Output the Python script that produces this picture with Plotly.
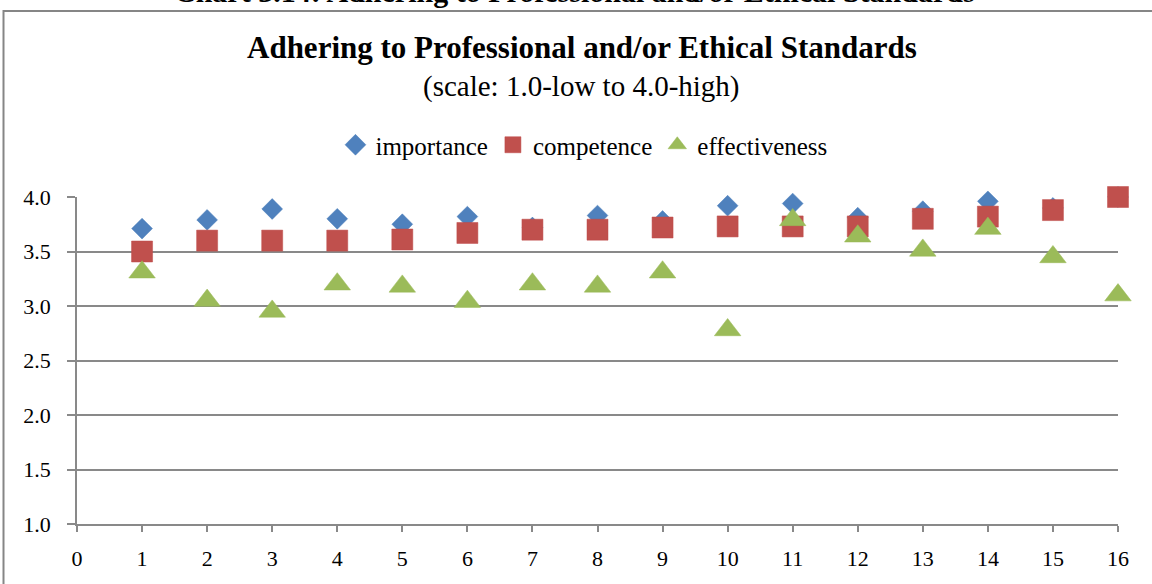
import plotly.graph_objects as go

# Survey items 1..16 and their mean ratings (1.0 = low, 4.0 = high)
items = list(range(1, 17))
importance = [3.71, 3.79, 3.89, 3.80, 3.75, 3.82, 3.72, 3.83,
              3.78, 3.92, 3.94, 3.81, 3.87, 3.96, 3.90, 4.00]
competence = [3.50, 3.60, 3.60, 3.60, 3.61, 3.67, 3.70, 3.70,
              3.72, 3.73, 3.73, 3.73, 3.80, 3.82, 3.88, 4.00]
effectiveness = [3.31, 3.05, 2.95, 3.20, 3.18, 3.04, 3.20, 3.18,
                 3.31, 2.78, 3.79, 3.64, 3.51, 3.71, 3.45, 3.10]

x_ticks = list(range(0, 17))
y_ticks = [1.0, 1.5, 2.0, 2.5, 3.0, 3.5, 4.0]

FONT = "Liberation Serif, Times New Roman, serif"
GRID = "#898989"

fig = go.Figure()
fig.add_trace(go.Scatter(
    x=items, y=importance, mode="markers", name="importance",
    marker=dict(symbol="diamond", size=16, color="#4F81BD",
                line=dict(color="#4A7EBB", width=0.5)),
    cliponaxis=False))
fig.add_trace(go.Scatter(
    x=items, y=competence, mode="markers", name="competence",
    marker=dict(symbol="square", size=21, color="#C0504D",
                line=dict(color="#BE4B48", width=0.5)),
    cliponaxis=False))
fig.add_trace(go.Scatter(
    x=items, y=effectiveness, mode="markers", name="effectiveness",
    marker=dict(symbol="triangle-up", size=23, color="#9BBB59",
                line=dict(color="#98B954", width=0.5)),
    cliponaxis=False))

# chart-area frame
fig.add_shape(type="rect", xref="paper", yref="paper",
              x0=-0.0706, x1=1.2, y0=-0.6, y1=1.5688,
              line=dict(color="#868686", width=2), layer="below")

# document caption above the chart frame
fig.add_annotation(text="<b>Chart 3.14: Adhering to Professional and/or Ethical Standards</b>",
                   xref="paper", yref="paper", x=0.478, y=1.628,
                   xanchor="center", yanchor="middle", showarrow=False,
                   font=dict(family=FONT, size=30, color="#000000"))

# chart title and subtitle
fig.add_annotation(text="<b>Adhering to Professional and/or Ethical Standards</b>",
                   xref="paper", yref="paper", x=0.485, y=1.4557,
                   xanchor="center", yanchor="middle", showarrow=False,
                   font=dict(family=FONT, size=31, color="#000000"))
fig.add_annotation(text="(scale: 1.0-low to 4.0-high)",
                   xref="paper", yref="paper", x=0.4847, y=1.339,
                   xanchor="center", yanchor="middle", showarrow=False,
                   font=dict(family=FONT, size=29, color="#000000"))

fig.update_layout(
    width=1152, height=584,
    margin=dict(l=77, r=34, t=197, b=60),
    paper_bgcolor="white", plot_bgcolor="white",
    font=dict(family=FONT, size=22, color="#000000"),
    showlegend=True,
    legend=dict(orientation="h", x=0.487, y=1.159, xanchor="center",
                yanchor="middle", font=dict(family=FONT, size=25),
                itemsizing="trace", bgcolor="rgba(0,0,0,0)"),
    xaxis=dict(range=[0, 16], tickmode="array", tickvals=x_ticks,
               showgrid=False, zeroline=False, showline=True,
               linecolor=GRID, linewidth=1.5, ticks="outside",
               ticklen=6, tickcolor=GRID, tickwidth=1.5,
               ticklabelstandoff=8,
               tickfont=dict(family=FONT, size=22)),
    yaxis=dict(range=[1, 4], tickmode="array", tickvals=y_ticks,
               tickformat=".1f", showgrid=True, gridcolor=GRID,
               gridwidth=1.5, zeroline=False, showline=True,
               linecolor=GRID, linewidth=1.5, ticks="outside",
               ticklen=8, tickcolor=GRID, tickwidth=1.5,
               ticklabelstandoff=12,
               tickfont=dict(family=FONT, size=22)),
)

fig.write_html("out.html")
